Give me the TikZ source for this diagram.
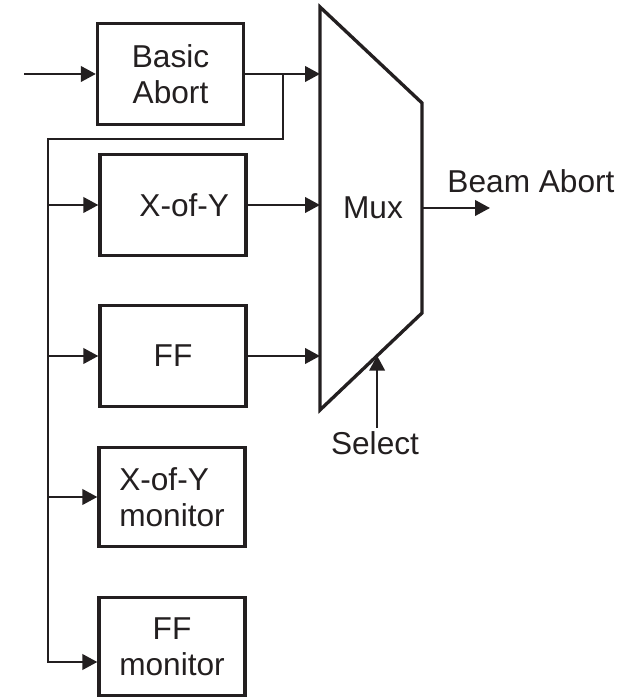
\documentclass[tikz,border=0pt]{standalone}
\usepackage{fontspec}
\setmainfont{Liberation Sans}
\usetikzlibrary{arrows.meta,calc}
\definecolor{ink}{HTML}{231F20}
\tikzset{
  every node/.append style = {text=ink},
  % --- blocks -------------------------------------------------------------
  block/.style    = {draw=ink, line width=1.9pt, minimum width=2.92cm,
                     minimum height=2.02cm, align=center, inner sep=0pt,
                     font=\fontsize{18}{20.5}\selectfont},
  muxshape/.style = {draw=ink, line width=1.9pt},
  % --- connectors ---------------------------------------------------------
  wire/.style     = {draw=ink, line width=1.4pt},
  sig/.style      = {wire, -{Triangle[length=3mm,width=3.1mm]}},
  % --- labels -------------------------------------------------------------
  lbl/.style      = {font=\fontsize{18}{20.5}\selectfont, inner sep=2pt},
}
\begin{document}
\begin{tikzpicture}
\useasboundingbox (0,0) rectangle (12.48,13.98);

% ------------------------------ blocks -------------------------------------
\node[block] (ba)   at (3.41,12.50) {Basic\\Abort};
\node[block] (xoy)  at (3.46,9.88)  {\hspace*{0.45cm}X-of-Y};
\node[block] (ff)   at (3.46,6.86)  {FF};
\node[block, align=left, minimum height=1.98cm] (xoym) at (3.44,4.04)
     {X-of-Y\\monitor};
\node[block, minimum height=1.97cm] (ffm)  at (3.44,1.05) {FF\\monitor};

% ------------------------------- mux ---------------------------------------
\coordinate (mux-nw) at (6.40,13.84);
\coordinate (mux-ne) at (8.44,11.92);
\coordinate (mux-se) at (8.44,7.72);
\coordinate (mux-sw) at (6.40,5.78);
\draw[muxshape] (mux-nw) -- (mux-ne) -- (mux-se) -- (mux-sw) -- cycle;
\node[lbl] (mux) at (7.46,9.82) {Mux};

% ------------------------------ labels -------------------------------------
\node[lbl] (beam) at (10.62,10.36) {Beam Abort};
\node[lbl] (sel)  at (7.50,5.12)   {Select};

% ------------------------------- flow --------------------------------------
\coordinate (in)      at (0.48,12.50);
\coordinate (tap)     at (5.66,12.50);
\coordinate (bus)     at (0.96,11.20);
\coordinate (mux-out) at (8.44,9.82);
\coordinate (out)     at (9.80,9.82);
\coordinate (sel-tip) at ($(mux-se)!0.44!(mux-sw)$);

\draw[sig] (in) -- (ba);
\foreach \b in {ba,xoy,ff}{ \draw[sig] (\b.east) -- (\b.east -| mux-nw); }
\draw[sig] (tap) |- (bus) |- ([yshift=-0.31cm]ffm.west);
\foreach \b in {xoy,ff,xoym}{ \draw[sig] (bus |- \b.west) -- (\b.west); }
\draw[sig] (mux-out) -- (out);
\draw[sig] (sel.north -| sel-tip) -- (sel-tip);

\end{tikzpicture}
\end{document}
